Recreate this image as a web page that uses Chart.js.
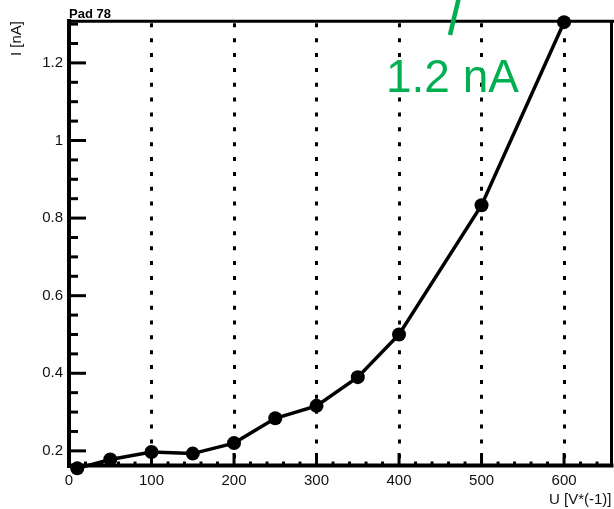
<!DOCTYPE html>
<html>
<head>
<meta charset="utf-8">
<script src="https://cdn.jsdelivr.net/npm/chart.js@4.4.1/dist/chart.umd.min.js"></script>
<style>
  html, body { margin: 0; padding: 0; background: #ffffff; }
  #wrap { width: 614px; height: 509px; position: relative; }
</style>
</head>
<body>
<div id="wrap"><canvas id="c" width="614" height="509"></canvas></div>
<script>
// Leakage current of pad 78 versus bias voltage
const voltages = [10, 50, 100, 150, 200, 250, 300, 350, 400, 500, 600];
const currents = [0.155, 0.178, 0.197, 0.193, 0.220, 0.284, 0.316, 0.390, 0.500, 0.833, 1.305];

const xTicks = [0, 100, 200, 300, 400, 500, 600];
const yTicks = [0.2, 0.4, 0.6, 0.8, 1, 1.2];
const xMinorStep = 20;
const yMinorStep = 0.05;

const padTitle = 'Pad 78';
const noteText = '1.2 nA';
const xTitle = 'U [V*(-1)]';
const yTitle = 'I [nA]';

const FONT = "'Liberation Sans', Arial, sans-serif";
const GREEN = '#00b050';

// Frame, tick marks and text overlays drawn on the chart canvas
const framePlugin = {
  id: 'frame',
  beforeDatasetsDraw(chart) {
    const ctx = chart.ctx;
    const xs = chart.scales.x, ys = chart.scales.y;
    const a = chart.chartArea;
    ctx.save();
    ctx.strokeStyle = '#000';
    ctx.lineCap = 'butt';
    ctx.setLineDash([]);

    // minor + major ticks on the y axis
    ctx.lineWidth = 3;
    const yMinStart = Math.ceil(ys.min / yMinorStep - 1e-9);
    for (let k = yMinStart; k * yMinorStep <= ys.max + 1e-9; k++) {
      const v = k * yMinorStep;
      const py = ys.getPixelForValue(v);
      const major = Math.abs(Math.round(v / 0.2) * 0.2 - v) < 1e-6;
      ctx.beginPath();
      ctx.moveTo(a.left, py);
      ctx.lineTo(a.left + (major ? 17 : 9), py);
      ctx.stroke();
    }
    // minor + major ticks on the x axis
    for (let v = xMinorStep; v <= xs.max; v += xMinorStep) {
      const px = xs.getPixelForValue(v);
      const major = v % 100 === 0;
      ctx.beginPath();
      ctx.moveTo(px, a.bottom);
      ctx.lineTo(px, a.bottom - (major ? 13 : 4.5));
      ctx.stroke();
    }

    // frame
    ctx.lineWidth = 4;
    ctx.beginPath();
    ctx.moveTo(a.left, a.top - 2); ctx.lineTo(a.left, a.bottom + 2);
    ctx.stroke();
    ctx.beginPath();
    ctx.moveTo(a.left - 2, a.bottom - 0.5); ctx.lineTo(a.right + 2, a.bottom - 0.5);
    ctx.stroke();
    ctx.lineWidth = 3;
    ctx.beginPath();
    ctx.moveTo(a.left - 2, a.top + 0.3); ctx.lineTo(chart.width, a.top + 0.3);
    ctx.stroke();
    ctx.beginPath();
    ctx.moveTo(a.right, a.top - 1); ctx.lineTo(a.right, a.bottom + 1);
    ctx.stroke();
    ctx.restore();
  },
  afterDraw(chart) {
    const ctx = chart.ctx;
    const a = chart.chartArea;
    ctx.save();
    // pad name above the frame
    ctx.fillStyle = '#000';
    ctx.font = 'bold 13px ' + FONT;
    ctx.textAlign = 'left';
    ctx.textBaseline = 'alphabetic';
    ctx.fillText(padTitle, a.left, 18);

    // green note
    ctx.fillStyle = GREEN;
    ctx.font = '46px ' + FONT;
    ctx.textAlign = 'right';
    ctx.fillText(noteText, 519, 92);
    ctx.strokeStyle = GREEN;
    ctx.lineWidth = 4.5;
    ctx.lineCap = 'butt';
    ctx.beginPath();
    ctx.moveTo(450, 35);
    ctx.lineTo(459.5, -5);
    ctx.stroke();
    ctx.restore();
  }
};

new Chart(document.getElementById('c'), {
  type: 'scatter',
  data: {
    datasets: [{
      data: voltages.map((v, i) => ({ x: v, y: currents[i] })),
      showLine: true,
      borderColor: '#000',
      backgroundColor: '#000',
      borderWidth: 3.5,
      pointRadius: 7,
      pointHoverRadius: 7,
      pointBorderWidth: 0,
      tension: 0,
      clip: false
    }]
  },
  options: {
    responsive: false,
    animation: false,
    events: [],
    layout: { autoPadding: false, padding: { left: 0, top: 21, right: 2.5, bottom: 0 } },
    plugins: { legend: { display: false }, tooltip: { enabled: false }, title: { display: false } },
    scales: {
      x: {
        type: 'linear',
        min: 0,
        max: 657.5,
        afterBuildTicks: (s) => { s.ticks = xTicks.map(v => ({ value: v })); },
        afterFit: (s) => { s.height = 43; s.paddingLeft = 0; s.paddingRight = 0; },
        ticks: {
          includeBounds: false,
          padding: 6,
          color: '#111',
          font: { family: FONT, size: 15 },
          maxRotation: 0,
          callback: (v) => String(v)
        },
        grid: {
          display: true,
          drawTicks: false,
          color: '#000',
          lineWidth: 3
        },
        border: { display: false, dash: [4, 10.86], dashOffset: 12.56 },
        title: {
          display: true,
          text: xTitle,
          align: 'end',
          color: '#111',
          font: { family: FONT, size: 15 },
          padding: { top: 2, bottom: 0 }
        }
      },
      y: {
        type: 'linear',
        min: 0.161,
        max: 1.308,
        afterBuildTicks: (s) => { s.ticks = yTicks.map(v => ({ value: v })); },
        afterFit: (s) => { s.width = 69; s.paddingTop = 0; s.paddingBottom = 0; },
        ticks: {
          includeBounds: false,
          padding: 6,
          color: '#111',
          font: { family: FONT, size: 15 },
          callback: (v) => String(v)
        },
        grid: { display: false, drawTicks: false },
        border: { display: false },
        title: {
          display: true,
          text: yTitle,
          align: 'end',
          color: '#111',
          font: { family: FONT, size: 15 },
          padding: { top: 8, bottom: 0 }
        }
      }
    }
  },
  plugins: [framePlugin]
});
</script>
</body>
</html>
